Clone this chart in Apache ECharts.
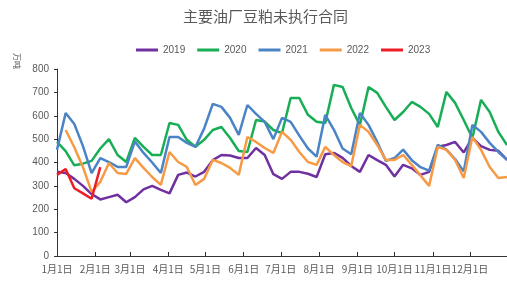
<!DOCTYPE html>
<html>
<head>
<meta charset="utf-8">
<script src="https://cdn.jsdelivr.net/npm/echarts@6/dist/echarts.min.js"></script>
<style>
  html, body { margin: 0; padding: 0; background: #fff; }
  #main { width: 507px; height: 284px; }
</style>
</head>
<body>
<div id="main"></div>
<script>
// 周度数据，按年份
var years = ['2019', '2020', '2021', '2022', '2023'];
var v2019 = [360,355,330,300,265,242,252,262,230,252, 285,300,283,268,347,357,340,360,410,432,
             430,419,419,462,432,350,330,360,360,352, 338,435,441,420,385,360,432,410,390,340,
             390,375,347,360,467,475,488,443,505,470, 454,450,411];
var v2020 = [488,449,388,395,407,460,500,432,402,505, 467,432,432,569,561,497,467,497,539,552,
             505,449,445,582,575,539,526,676,676,604, 574,569,732,723,633,560,723,698,638,582,
             616,659,638,608,552,702,655,582,505,668, 616,531,475];
var v2021 = [454,612,565,470,355,419,402,381,381,490, 441,400,355,509,509,484,467,545,651,638,
             591,518,646,608,574,500,591,574,515,460, 425,604,540,460,435,612,561,488,407,419,
             455,410,380,365,475,455,415,362,561,531, 484,445,411];
var v2022 = [null,539,465,380,274,317,398,355,351,419, 377,338,304,445,402,381,304,330,411,398,
             377,347,509,488,462,441,531,497,445,402, 390,467,432,402,385,561,531,475,411,411,
             432,390,345,300,467,454,411,334,509,454, 381,334,338];
var v2023 = [347,372,290,268,245,380];

var monthDays = [0, 31, 59, 90, 120, 151, 181, 212, 243, 273, 304, 334];
var monthLabels = ['1月1日','2月1日','3月1日','4月1日','5月1日','6月1日',
                   '7月1日','8月1日','9月1日','10月1日','11月1日','12月1日'];

var colors = ['#7030A0', '#17AE55', '#4A84C4', '#F79A45', '#EE1C25'];
var values = [v2019, v2020, v2021, v2022, v2023];

function toPairs(arr) {
    return arr.map(function (v, i) { return [i * 7, v]; });
}

var myChart = echarts.init(document.getElementById('main'));

var option = {
    color: colors,
    animation: false,
    title: {
        text: '主要油厂豆粕未执行合同',
        left: 178,
        top: 4,
        textStyle: {
            fontFamily: 'Noto Sans CJK SC',
            fontSize: 15,
            fontWeight: 'normal',
            color: '#595959'
        }
    },
    legend: {
        data: years,
        left: 131,
        top: 40,
        icon: 'rect',
        itemWidth: 22,
        itemHeight: 3,
        itemGap: 12,
        textStyle: { fontSize: 10, color: '#595959', fontFamily: 'Liberation Sans' }
    },
    graphic: [{
        type: 'text',
        left: 13,
        top: 53,
        rotation: -Math.PI / 2,
        style: {
            text: '万吨',
            fontSize: 8,
            fill: '#595959',
            fontFamily: 'Noto Sans CJK SC'
        }
    }],
    grid: {
        left: 57,
        right: -3,
        top: 69,
        bottom: 28
    },
    xAxis: {
        type: 'value',
        min: 0,
        max: 364,
        splitLine: { show: false },
        axisLine: { lineStyle: { color: '#333', width: 1 } },
        axisTick: {
            inside: true,
            length: 4,
            customValues: monthDays,
            lineStyle: { color: '#333' }
        },
        axisLabel: {
            customValues: monthDays,
            fontSize: 10,
            color: '#595959',
            margin: 8,
            fontFamily: 'Noto Sans CJK SC',
            formatter: function (val) {
                var idx = monthDays.indexOf(val);
                return idx >= 0 ? monthLabels[idx] : '';
            }
        }
    },
    yAxis: {
        type: 'value',
        min: 0,
        max: 800,
        interval: 100,
        splitLine: { show: false },
        axisLine: { show: true, lineStyle: { color: '#333', width: 1 } },
        axisTick: { show: true, length: 3, lineStyle: { color: '#333' } },
        axisLabel: { fontSize: 10, color: '#595959', margin: 8, fontFamily: 'Liberation Sans' }
    },
    series: years.map(function (y, k) {
        return {
            name: y,
            type: 'line',
            data: toPairs(values[k]),
            showSymbol: false,
            symbol: 'none',
            connectNulls: false,
            lineStyle: { width: 2.5, color: colors[k] },
            itemStyle: { color: colors[k] },
            z: k === 4 ? 10 : 2 + k
        };
    })
};

myChart.setOption(option);
</script>
</body>
</html>
